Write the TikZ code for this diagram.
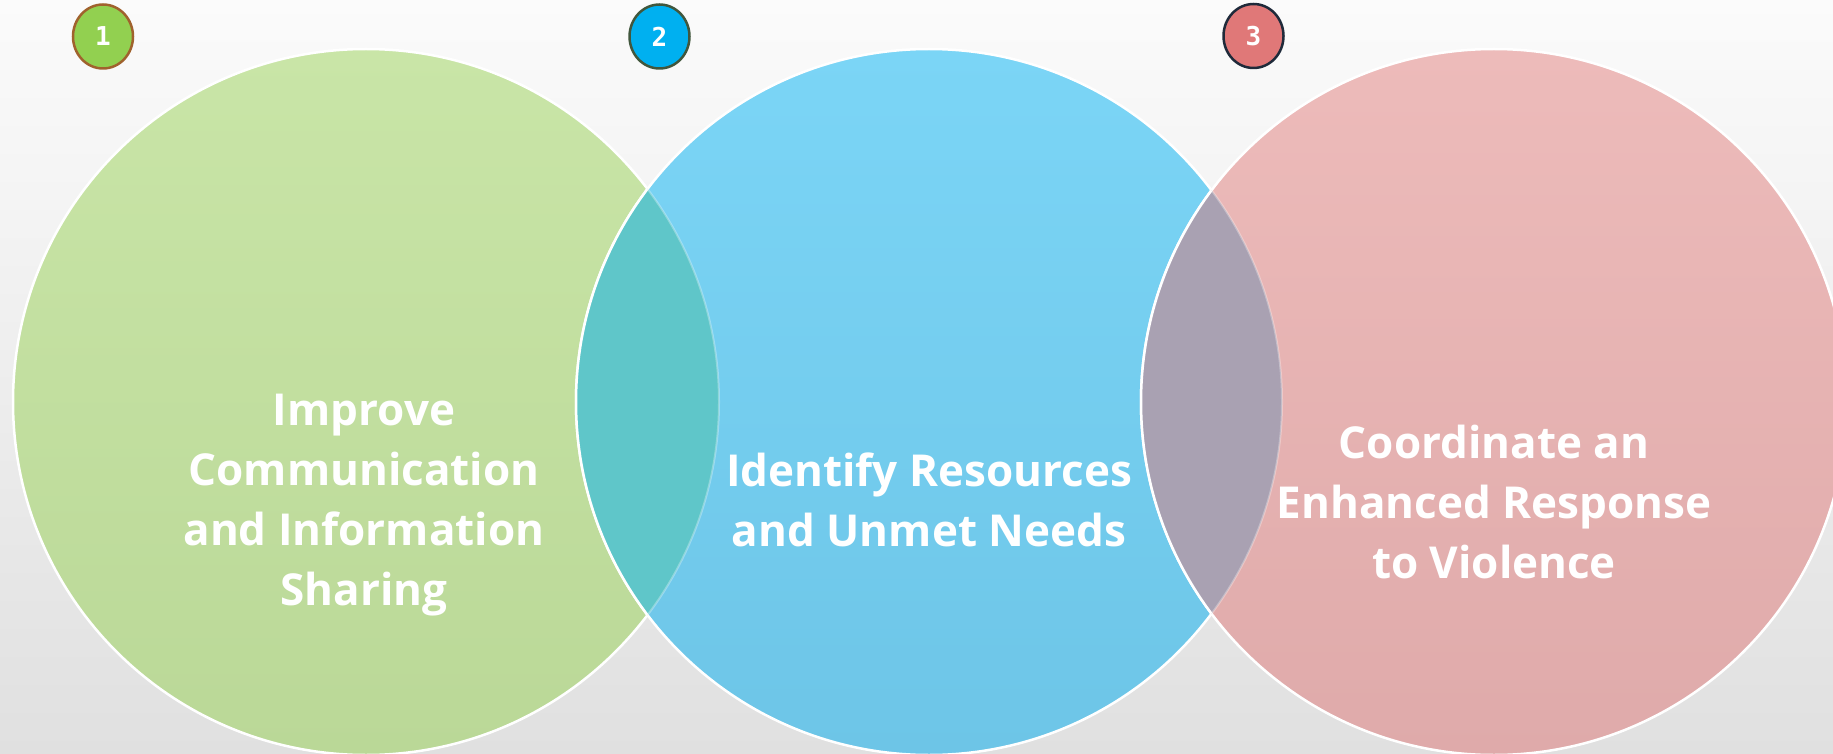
\documentclass[tikz,border=0pt]{standalone}
\usepackage{fontspec}
\newfontfamily\labelfont{Open Sans}
\newfontfamily\digitfont{DejaVu Sans Mono}
\definecolor{bgtop}{HTML}{FBFBFB}
\definecolor{bgbot}{HTML}{E0E0E0}
\definecolor{gtop}{HTML}{C9E5A7}
\definecolor{gbot}{HTML}{BAD897}
\definecolor{btop}{HTML}{7BD5F6}
\definecolor{bbot}{HTML}{6DC5E7}
\definecolor{ptop}{HTML}{EDBBBA}
\definecolor{pbot}{HTML}{DFAAAA}
\definecolor{lensgb}{HTML}{5FC6C9}
\definecolor{lensbp}{HTML}{A9A1B2}
\definecolor{bgreen}{HTML}{92D050}
\definecolor{bgreenb}{HTML}{A0622D}
\definecolor{bblue}{HTML}{00B0F0}
\definecolor{bblueb}{HTML}{41573D}
\definecolor{bred}{HTML}{E07878}
\definecolor{bredb}{HTML}{1F2A3A}
\tikzset{
  outline/.style={draw=white, line width=2.5pt},
  faintline/.style={draw=white, draw opacity=0.3, line width=2pt},
  label/.style={text=white, align=center, font=\labelfont\bfseries\fontsize{44}{60}\selectfont},
  badge/.style={ellipse, minimum width=60pt, minimum height=64pt, inner sep=0pt, line width=2.5pt, text=white, font=\digitfont\bfseries\fontsize{26}{26}\selectfont},
}
\usetikzlibrary{shapes.geometric}
\begin{document}
\begin{tikzpicture}[x=1pt,y=-1pt]
\useasboundingbox (0,0) rectangle (1833,754);
\clip (0,0) rectangle (1833,754);
\shade[top color=bgtop, bottom color=bgbot] (0,0) rectangle (1833,754);
\def\R{353pt}
\coordinate (c1) at (366,402);
\coordinate (c2) at (929,402);
\coordinate (c3) at (1494,402);
% circles
\shade[top color=gtop, bottom color=gbot] (c1) circle (\R);
\draw[outline] (c1) circle (\R);
\shade[top color=btop, bottom color=bbot] (c2) circle (\R);
\draw[outline] (c2) circle (\R);
\shade[top color=ptop, bottom color=pbot] (c3) circle (\R);
\draw[outline] (c3) circle (\R);
% lens 1-2
\begin{scope}
\clip (c1) circle (\R);
\fill[lensgb] (c2) circle (\R);
\draw[outline] (c2) circle (\R);
\end{scope}
\begin{scope}
\clip (c2) circle (\R);
\draw[faintline] (c1) circle (\R);
\end{scope}
% lens 2-3
\begin{scope}
\clip (c2) circle (\R);
\fill[lensbp] (c3) circle (\R);
\draw[outline] (c3) circle (\R);
\end{scope}
\begin{scope}
\clip (c3) circle (\R);
\draw[faintline] (c2) circle (\R);
\end{scope}
% texts
\node[label] (t1) at (364,505) {Improve\\Communication\\and Information\\Sharing};
\node[label] (t2) at (929,500) {Identify Resources\\and Unmet Needs};
\node[label] (t3) at (1494,502) {Coordinate an\\Enhanced Response\\to Violence};
% badges
\node[badge, fill=bgreen, draw=bgreenb] (b1) at (103,36.5) {1};
\node[badge, fill=bblue, draw=bblueb] (b2) at (659.5,36.5) {2};
\node[badge, fill=bred, draw=bredb] (b3) at (1253.5,36) {3};
\end{tikzpicture}
\end{document}
